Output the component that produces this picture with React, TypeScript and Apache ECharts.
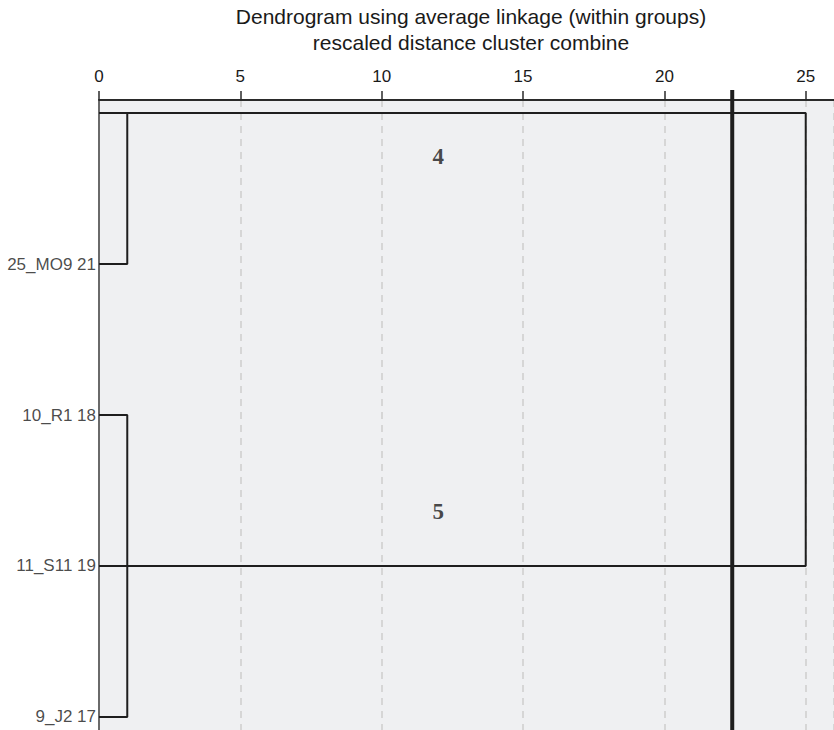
import React, { useEffect, useRef } from "react";
import * as echarts from "echarts";

const titleLines = [
  "Dendrogram using average linkage (within groups)",
  "rescaled distance cluster combine",
];
const rowLabels = ["", "25_MO9 21", "10_R1 18", "11_S11 19", "9_J2 17"];
// merges: [rowA, rowB, rescaled distance]
const merges: [number, number, number][] = [
  [0, 1, 1],
  [2, 4, 1],
  [0, 3, 25],
];
const cutDistance = 22.4;
const clusterNames = ["4", "5"];
const clusterX = [12, 12];
const clusterY = [0.285, 2.636];
const xTicks = { min: 0, max: 26, interval: 5 };

const Y_MIN = -0.0867;
const Y_MAX = 4.0867;
const CUT_TOP = -0.153;

export default function App() {
  const ref = useRef<HTMLDivElement>(null);
  useEffect(() => {
    document.body.style.margin = "0";
    if (!ref.current) return;
    const chart = echarts.init(ref.current, undefined, { renderer: "svg" });
    const font = "'Liberation Sans', Arial, Helvetica, sans-serif";
    const series: any[] = [];
    merges.forEach(([a, b, d]) => {
      series.push({
        type: "line",
        data: [
          [0, a],
          [d, a],
          [d, b],
          [0, b],
        ],
        symbol: "none",
        lineStyle: { color: "#1e1e1e", width: 2 },
        z: 3,
      });
    });
    series.push({
      type: "line",
      data: [
        [cutDistance, CUT_TOP],
        [cutDistance, Y_MAX],
      ],
      symbol: "none",
      clip: false,
      lineStyle: { color: "#1e1e1e", width: 4 },
      z: 5,
    });
    series.push({
      type: "scatter",
      symbolSize: 0,
      data: rowLabels.map((r, i) => ({ value: [0, i], name: r })),
      label: {
        show: true,
        position: "left",
        distance: 3,
        formatter: "{b}",
        fontSize: 17,
        color: "#1a1a1a",
        fontFamily: font,
      },
      z: 6,
    });
    series.push({
      type: "scatter",
      symbolSize: 0,
      data: clusterNames.map((n, i) => ({ value: [clusterX[i], clusterY[i]], name: n })),
      label: {
        show: true,
        position: "inside",
        formatter: "{b}",
        fontSize: 23,
        fontWeight: "bold",
        color: "#1a1a1a",
        fontFamily: "'Liberation Serif', 'DejaVu Serif', serif",
      },
      z: 6,
    });

    chart.setOption({
      animation: false,
      grid: {
        left: 99,
        right: 0,
        top: 100,
        bottom: 0,
        show: true,
        backgroundColor: "#eff0f2",
        borderWidth: 0,
      },
      xAxis: {
        type: "value",
        position: "top",
        min: xTicks.min,
        max: xTicks.max,
        interval: xTicks.interval,
        axisLine: { show: true, onZero: false, lineStyle: { color: "#2a2a2a", width: 1.8 } },
        axisTick: { show: true, length: 9, lineStyle: { color: "#2a2a2a", width: 1.5 } },
        axisLabel: {
          fontSize: 17,
          color: "#1a1a1a",
          margin: 15,
          showMaxLabel: false,
          fontFamily: font,
        },
        splitLine: {
          show: true,
          lineStyle: { type: [7, 6], color: "#d6d6d6", width: 2 },
        },
      },
      yAxis: {
        type: "value",
        inverse: true,
        min: Y_MIN,
        max: Y_MAX,
        axisLine: { show: true, onZero: false, lineStyle: { color: "#6a6a6a", width: 2 } },
        axisLabel: { show: false },
        axisTick: { show: false },
        splitLine: { show: false },
      },
      graphic: titleLines.map((t, i) => ({
        type: "text",
        x: 471,
        y: 16 + i * 26,
        style: {
          text: t,
          fill: "#1a1a1a",
          font: `21px ${font}`,
          textAlign: "center",
          textVerticalAlign: "middle",
        },
      })),
      series,
    });
    return () => chart.dispose();
  }, []);
  return <div ref={ref} style={{ width: 834, height: 730 }} />;
}
